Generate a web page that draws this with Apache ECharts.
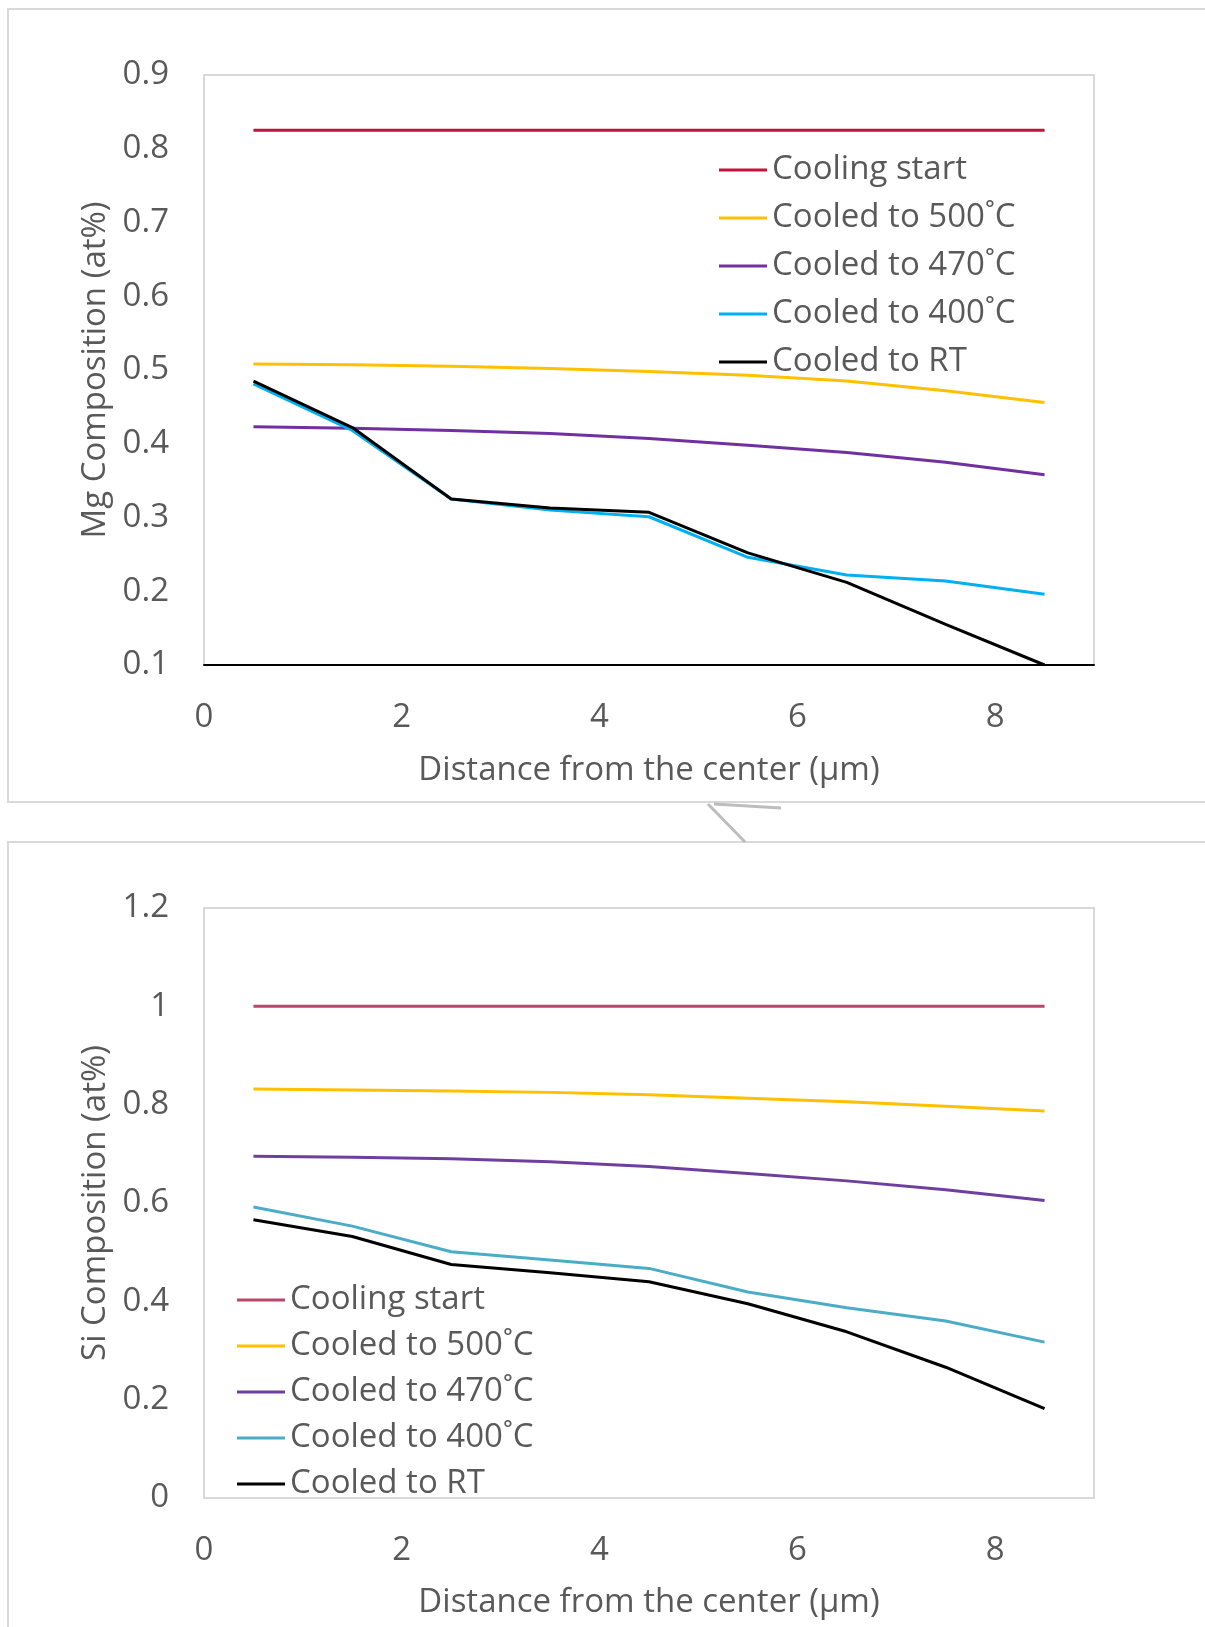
<!DOCTYPE html>
<html>
<head>
<meta charset="utf-8">
<script src="https://cdn.jsdelivr.net/npm/echarts@6/dist/echarts.min.js"></script>
<style>
  html, body { margin: 0; padding: 0; background: #fff; }
  #main { width: 1205px; height: 1627px; }
</style>
</head>
<body>
<div id="main"></div>
<script>
// distance from the center (um)
var distance = [0.5, 1.5, 2.5, 3.5, 4.5, 5.5, 6.5, 7.5, 8.5];
var seriesNames = ['Cooling start', 'Cooled to 500\u02DAC', 'Cooled to 470\u02DAC', 'Cooled to 400\u02DAC', 'Cooled to RT'];

// Mg composition (at%)
var mgStart = [0.825, 0.825, 0.825, 0.825, 0.825, 0.825, 0.825, 0.825, 0.825];
var mg500   = [0.508, 0.507, 0.505, 0.502, 0.498, 0.493, 0.485, 0.472, 0.456];
var mg470   = [0.423, 0.421, 0.418, 0.414, 0.407, 0.398, 0.388, 0.375, 0.358];
var mg400   = [0.481, 0.418, 0.325, 0.310, 0.301, 0.246, 0.222, 0.214, 0.196];
var mgRT    = [0.485, 0.422, 0.325, 0.313, 0.307, 0.252, 0.212, 0.155, 0.100];

// Si composition (at%)
var siStart = [1.0, 1.0, 1.0, 1.0, 1.0, 1.0, 1.0, 1.0, 1.0];
var si500   = [0.832, 0.830, 0.828, 0.825, 0.820, 0.813, 0.806, 0.797, 0.787];
var si470   = [0.695, 0.693, 0.690, 0.684, 0.674, 0.660, 0.645, 0.627, 0.605];
var si400   = [0.592, 0.553, 0.501, 0.484, 0.467, 0.419, 0.387, 0.360, 0.317];
var siRT    = [0.566, 0.532, 0.475, 0.458, 0.440, 0.395, 0.338, 0.266, 0.182];

var mgColors = ['#C0143C', '#FFC000', '#7030A0', '#00B0F0', '#000000'];
var siColors = ['#B9476A', '#FFC000', '#6F3FA0', '#4BACC6', '#000000'];

function pairs(ys) {
    return distance.map(function (x, i) { return [x, ys[i]]; });
}

var font = 'Open Sans';
var fs = 33;
var grey = '#595959';

var chart = echarts.init(document.getElementById('main'), null, { renderer: 'canvas' });

var mgData = [mgStart, mg500, mg470, mg400, mgRT];
var siData = [siStart, si500, si470, si400, siRT];
var series = [];
mgData.forEach(function (d, i) {
    series.push({
        name: seriesNames[i], type: 'line', xAxisIndex: 0, yAxisIndex: 0,
        data: pairs(d), showSymbol: false, silent: true,
        lineStyle: { width: 3, color: mgColors[i] }, itemStyle: { color: mgColors[i] }
    });
});
// the lower chart gets its own legend, so its names carry a trailing space
siData.forEach(function (d, i) {
    series.push({
        name: seriesNames[i] + ' ', type: 'line', xAxisIndex: 1, yAxisIndex: 1,
        data: pairs(d), showSymbol: false, silent: true,
        lineStyle: { width: 3, color: siColors[i] }, itemStyle: { color: siColors[i] }
    });
});

var xAxisCommon = {
    type: 'value', min: 0, max: 9, interval: 2,
    nameLocation: 'middle',
    nameTextStyle: { fontFamily: font, fontSize: fs, color: grey },
    axisTick: { show: false },
    splitLine: { show: false },
    axisLabel: { showMaxLabel: false, fontFamily: font, fontSize: fs, color: grey, margin: 36 }
};

chart.setOption({
    backgroundColor: '#fff',
    animation: false,
    graphic: [
        { type: 'rect', shape: { x: 8, y: 9, width: 1210, height: 793 }, style: { fill: 'none', stroke: '#D9D9D9', lineWidth: 2 }, z: -1 },
        { type: 'rect', shape: { x: 8, y: 842, width: 1210, height: 800 }, style: { fill: 'none', stroke: '#D9D9D9', lineWidth: 2 }, z: -1 },
        { type: 'polyline', shape: { points: [[708, 804], [745, 842]] }, style: { stroke: '#BDBDBD', lineWidth: 3 } },
        { type: 'polyline', shape: { points: [[714, 804], [781, 808]] }, style: { stroke: '#BDBDBD', lineWidth: 3 } }
    ],
    grid: [
        { left: 204, top: 75, width: 890, height: 590, show: true, borderColor: '#D9D9D9', borderWidth: 2 },
        { left: 204, top: 908, width: 890, height: 590, show: true, borderColor: '#D9D9D9', borderWidth: 2 }
    ],
    legend: [
        {
            orient: 'vertical', left: 719, top: 147, itemGap: 2, padding: 0,
            itemWidth: 48, itemHeight: 3, icon: 'rect',
            data: seriesNames,
            textStyle: { fontFamily: font, fontSize: fs, color: grey, lineHeight: 46 }
        },
        {
            orient: 'vertical', left: 237, top: 1278, itemGap: 2, padding: 0,
            itemWidth: 48, itemHeight: 3, icon: 'rect',
            data: seriesNames.map(function (n) { return n + ' '; }),
            textStyle: { fontFamily: font, fontSize: fs, color: grey, lineHeight: 44 }
        }
    ],
    xAxis: [
        Object.assign({}, xAxisCommon, {
            gridIndex: 0, name: 'Distance from the center (\u00b5m)', nameGap: 89,
            axisLine: { show: true, lineStyle: { color: '#000', width: 2 } }
        }),
        Object.assign({}, xAxisCommon, {
            gridIndex: 1, name: 'Distance from the center (\u00b5m)', nameGap: 88,
            axisLine: { show: false }
        })
    ],
    yAxis: [
        {
            type: 'value', gridIndex: 0, min: 0.1, max: 0.9, interval: 0.1,
            name: 'Mg Composition (at%)', nameLocation: 'middle', nameGap: 90,
            nameTextStyle: { fontFamily: font, fontSize: fs, color: grey },
            axisLine: { show: false }, axisTick: { show: false }, splitLine: { show: false },
            axisLabel: { fontFamily: font, fontSize: fs, color: grey, margin: 35,
                formatter: function (v) { return v.toFixed(1); } }
        },
        {
            type: 'value', gridIndex: 1, min: 0, max: 1.2, interval: 0.2,
            name: 'Si Composition (at%)', nameLocation: 'middle', nameGap: 90,
            nameTextStyle: { fontFamily: font, fontSize: fs, color: grey },
            axisLine: { show: false }, axisTick: { show: false }, splitLine: { show: false },
            axisLabel: { fontFamily: font, fontSize: fs, color: grey, margin: 35,
                formatter: function (v) { return String(Math.round(v * 10) / 10); } }
        }
    ],
    series: series
});
</script>
</body>
</html>
